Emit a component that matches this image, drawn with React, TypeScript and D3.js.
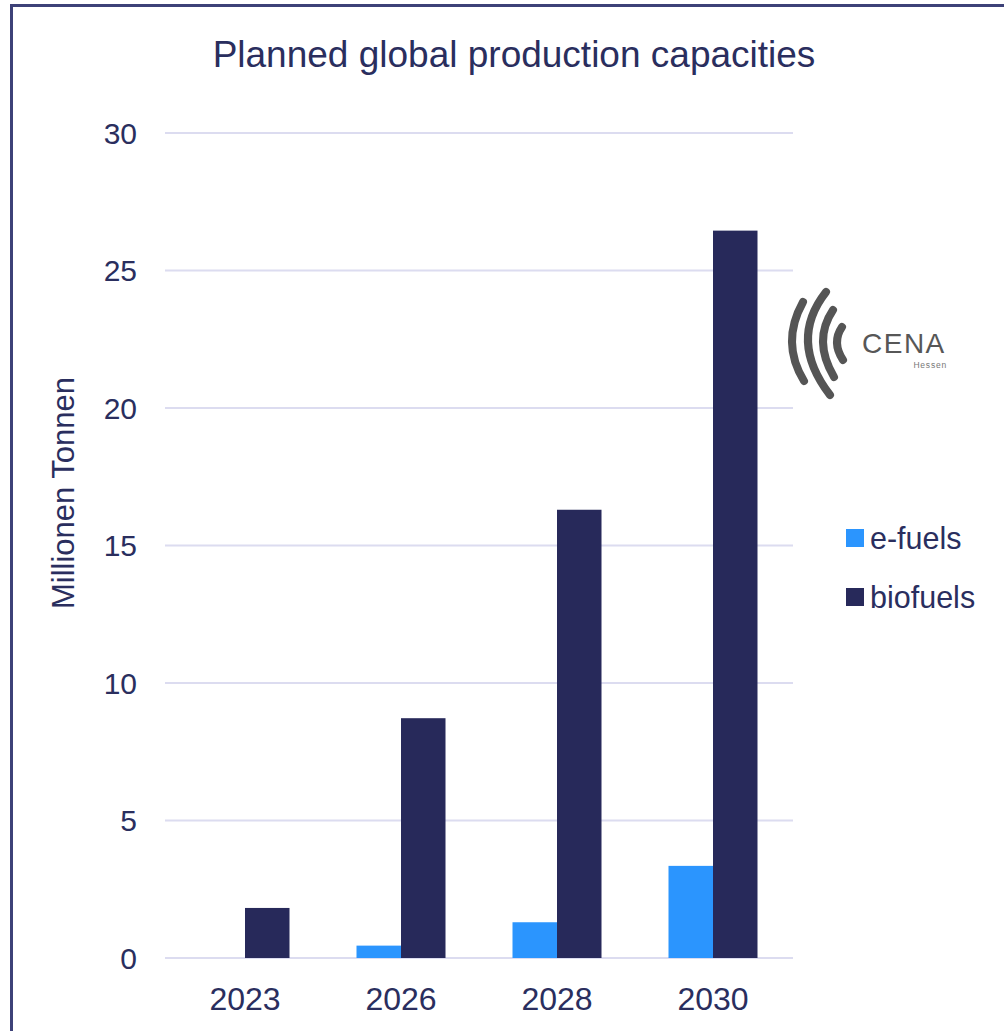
import React from "react";
import * as d3 from "d3";

const categories = ["2023", "2026", "2028", "2030"];
const seriesNames = ["e-fuels", "biofuels"];
const eFuels = [0, 0.45, 1.3, 3.35];
const bioFuels = [1.82, 8.72, 16.3, 26.45];
const yTicks = [0, 5, 10, 15, 20, 25, 30];
const seriesColors = ["#2b95fe", "#27295a"];
const titleText = "Planned global production capacities";
const yAxisTitle = "Millionen Tonnen";

const W = 1004;
const H = 1031;
const FONT = "'Liberation Sans', Arial, sans-serif";
const TEXT = "#2a2e5e";

export default function App() {
  const y = d3.scaleLinear().domain([0, 30]).range([958, 133]);
  const x0 = d3
    .scaleBand<string>()
    .domain(categories)
    .range([167, 791])
    .paddingInner(0.4295)
    .paddingOuter(0.21475);
  const x1 = d3
    .scaleBand<string>()
    .domain(seriesNames)
    .range([0, x0.bandwidth()]);
  const values = [eFuels, bioFuels];

  const arc3 = (t: number[], m: number[], b: number[]) => {
    const cx = 2 * m[0] - (t[0] + b[0]) / 2;
    const cy = 2 * m[1] - (t[1] + b[1]) / 2;
    const p = d3.path();
    p.moveTo(t[0], t[1]);
    p.quadraticCurveTo(cx, cy, b[0], b[1]);
    return p.toString();
  };

  const logoArcs = [
    [[803, 302], [792, 342], [804, 381]],
    [[826, 292], [808, 342], [830, 395]],
    [[833, 310], [823, 342], [834, 377]],
    [[842, 327], [837, 343], [843, 360]],
  ];

  return (
    <svg
      width={W}
      height={H}
      style={{ position: "absolute", left: 0, top: 0, background: "#fff" }}
    >
      <rect x={0} y={0} width={W} height={H} fill="#fff" />
      {/* frame */}
      <line x1={10} y1={5.5} x2={W} y2={5.5} stroke="#3d4178" strokeWidth={3} />
      <line x1={11.5} y1={4} x2={11.5} y2={H} stroke="#3d4178" strokeWidth={3} />

      {/* title */}
      <text
        x={514}
        y={67}
        textAnchor="middle"
        fontFamily={FONT}
        fontSize={37}
        fill={TEXT}
      >
        {titleText}
      </text>

      {/* gridlines */}
      {yTicks.map((t) => (
        <g key={t}>
          <line
            x1={165}
            x2={793}
            y1={y(t)}
            y2={y(t)}
            stroke="#dcdcf0"
            strokeWidth={2}
          />
          <text
            x={137}
            y={y(t)}
            dy="0.36em"
            textAnchor="end"
            fontFamily={FONT}
            fontSize={30}
            fill={TEXT}
          >
            {t}
          </text>
        </g>
      ))}

      {/* bars */}
      {categories.map((c, i) => (
        <g key={c} transform={`translate(${x0(c)},0)`}>
          {seriesNames.map((s, j) =>
            values[j][i] > 0 ? (
              <rect
                key={s}
                x={x1(s)}
                y={y(values[j][i])}
                width={x1.bandwidth()}
                height={y(0) - y(values[j][i])}
                fill={seriesColors[j]}
              />
            ) : null
          )}
        </g>
      ))}

      {/* x labels */}
      {categories.map((c) => (
        <text
          key={c}
          x={(x0(c) as number) + x0.bandwidth() / 2}
          y={1010}
          textAnchor="middle"
          fontFamily={FONT}
          fontSize={32}
          fill={TEXT}
        >
          {c}
        </text>
      ))}

      {/* y axis title */}
      <text
        transform="translate(74,493) rotate(-90)"
        textAnchor="middle"
        fontFamily={FONT}
        fontSize={31}
        fill={TEXT}
      >
        {yAxisTitle}
      </text>

      {/* legend */}
      {seriesNames.map((s, j) => (
        <g key={s} transform={`translate(846,${529 + j * 59})`}>
          <rect x={0} y={0} width={18} height={18} fill={seriesColors[j]} />
          <text
            x={24}
            y={9}
            dy="0.36em"
            fontFamily={FONT}
            fontSize={30.5}
            fill={TEXT}
          >
            {s}
          </text>
        </g>
      ))}

      {/* logo */}
      <g>
        {logoArcs.map((a, i) => (
          <path
            key={i}
            d={arc3(a[0], a[1], a[2])}
            fill="none"
            stroke="#555555"
            strokeWidth={8}
            strokeLinecap="round"
          />
        ))}
        <text
          x={862}
          y={353}
          fontFamily={FONT}
          fontSize={28}
          fill="#575757"
          letterSpacing={1.5}
        >
          CENA
        </text>
        <text
          x={947}
          y={368}
          textAnchor="end"
          fontFamily={FONT}
          fontSize={8.5}
          fill="#777"
          letterSpacing={0.8}
        >
          Hessen
        </text>
      </g>
    </svg>
  );
}
